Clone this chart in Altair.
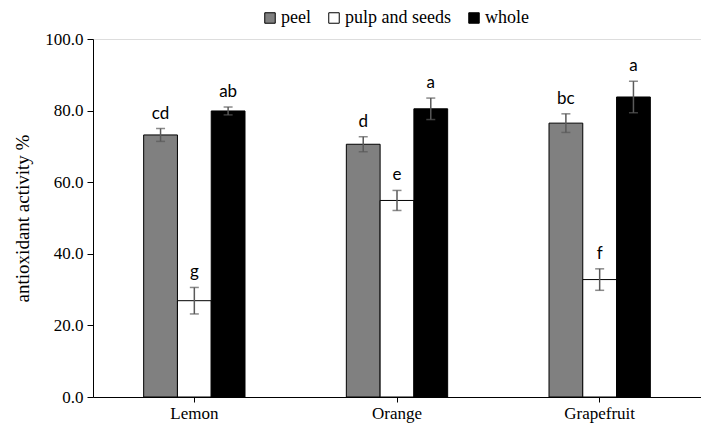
import altair as alt
import pandas as pd

fruits = ["Lemon", "Orange", "Grapefruit"]
parts = ["peel", "pulp and seeds", "whole"]
peel_vals = [73.2, 70.6, 76.5]
peel_err = [1.8, 2.1, 2.6]
pulp_vals = [26.9, 54.9, 32.8]
pulp_err = [3.7, 2.8, 3.0]
whole_vals = [79.9, 80.5, 83.8]
whole_err = [1.1, 3.0, 4.4]
peel_letters = ["cd", "d", "bc"]
pulp_letters = ["g", "e", "f"]
whole_letters = ["ab", "a", "a"]

rows = []
for part, vals, errs, lets in [
    ("peel", peel_vals, peel_err, peel_letters),
    ("pulp and seeds", pulp_vals, pulp_err, pulp_letters),
    ("whole", whole_vals, whole_err, whole_letters),
]:
    for f, v, e, l in zip(fruits, vals, errs, lets):
        rows.append({"fruit": f, "part": part, "value": v,
                     "lo": v - e, "hi": v + e, "letter": l})
df = pd.DataFrame(rows)

serif = "Liberation Serif"

x = alt.X("fruit:N", sort=fruits, title=None,
          scale=alt.Scale(paddingInner=0.5, paddingOuter=0.25),
          axis=alt.Axis(labelAngle=0, labelFont=serif, labelFontSize=17,
                        labelColor="black", domainColor="black", tickColor="black",
                        tickSize=5, labelPadding=3))
xo = alt.XOffset("part:N", sort=parts,
                 scale=alt.Scale(paddingInner=0, paddingOuter=0))

base = alt.Chart(df)

bars = base.mark_bar(stroke="black", strokeWidth=1).encode(
    x=x, xOffset=xo,
    y=alt.Y("value:Q", title="antioxidant activity %",
            scale=alt.Scale(domain=[0, 100], nice=False),
            axis=alt.Axis(values=[0, 20, 40, 60, 80, 100], format=".1f",
                          grid=False, labelFont=serif, labelFontSize=17,
                          labelColor="black", titleFont=serif, titleFontSize=19,
                          titleFontWeight="normal", titleColor="black",
                          domainColor="black", tickColor="black", tickSize=6,
                          labelPadding=4, titlePadding=12)),
    fill=alt.Fill("part:N", sort=parts,
                  scale=alt.Scale(domain=parts, range=["#808080", "#ffffff", "#000000"]),
                  legend=alt.Legend(title=None, orient="none", direction="horizontal",
                                    legendX=168, legendY=-30, labelFont=serif,
                                    labelFontSize=18, labelColor="black",
                                    symbolType="square", symbolSize=110,
                                    symbolStrokeColor="black", symbolStrokeWidth=1,
                                    columnPadding=14, labelOffset=2)),
)

rules = base.mark_rule(color="#595959", strokeWidth=1.5).encode(
    x=x, xOffset=xo, y="lo:Q", y2="hi:Q")
cap_lo = base.mark_tick(color="#595959", size=9, thickness=1.5).encode(
    x=x, xOffset=xo, y="lo:Q")
cap_hi = base.mark_tick(color="#595959", size=9, thickness=1.5).encode(
    x=x, xOffset=xo, y="hi:Q")
texts = base.mark_text(font="Lato", fontSize=17, baseline="bottom", dy=-6,
                       color="black").encode(
    x=x, xOffset=xo, y="hi:Q", text="letter:N")

chart = alt.layer(bars, rules, cap_lo, cap_hi, texts).properties(
    width=608, height=358,
    autosize=alt.AutoSizeParams(type="none"),
    padding={"left": 85, "top": 31, "right": 0, "bottom": 28},
).configure_view(stroke=None).configure(
    background="white", font=serif,
    style={"guide-label": {"font": serif}, "guide-title": {"font": serif}},
)

chart.save("out.html", embed_options={"renderer": "svg", "actions": False})
